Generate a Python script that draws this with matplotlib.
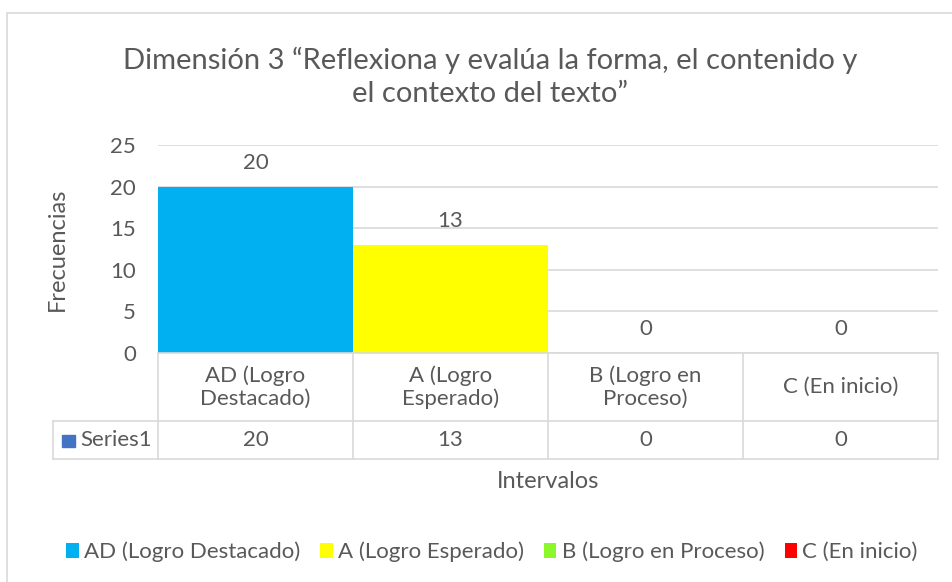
import matplotlib.pyplot as plt
from matplotlib.patches import Patch, Rectangle
from matplotlib.lines import Line2D
from matplotlib.transforms import blended_transform_factory

# ── Data ───────────────────────────────────────────────────────────────────
categories = ["AD (Logro Destacado)", "A (Logro Esperado)",
              "B (Logro en Proceso)", "C (En inicio)"]
table_labels = ["AD (Logro\nDestacado)", "A (Logro\nEsperado)",
                "B (Logro en\nProceso)", "C (En inicio)"]
values = [20, 13, 0, 0]
colors = ["#00b0f0", "#ffff00", "#92d050", "#ff0000"]
legend_colors = ["#00b0f0", "#ffff00", "#8cf72a", "#ff0000"]
series_name = "Series1"
yticks = [0, 5, 10, 15, 20, 25]

TXT = "#595959"
GRID = "#d9d9d9"
plt.rcParams["font.family"] = ["Lato", "DejaVu Sans"]

W, H = 953, 582
fig = plt.figure(figsize=(W / 100, H / 100), dpi=100)

# outer chart frame
fig.add_artist(Rectangle((7 / W, -0.1), 1.2, 1 - 13 / H + 0.1, transform=fig.transFigure,
                         fill=False, edgecolor=GRID, lw=1.2))

left, right, bottom, top = 158, 938, 353, 145
ax = fig.add_axes([left / W, 1 - bottom / H, (right - left) / W, (bottom - top) / H])

x = list(range(len(categories)))
ax.bar(x, values, width=1.0, color=colors, zorder=2)
ax.set_xlim(-0.5, len(categories) - 0.5)
ax.set_ylim(0, 25)
ax.set_yticks(yticks)
ax.set_yticklabels([str(t) for t in yticks], fontsize=16, color=TXT)
ax.tick_params(axis="y", length=0, pad=16)
ax.set_xticks([])
ax.grid(axis="y", color=GRID, lw=1.2, zorder=0)
for s in ax.spines.values():
    s.set_visible(False)

# bar value labels
for xi, v in zip(x, values):
    ax.annotate(str(v), (xi, v), xytext=(0, 10), textcoords="offset points",
                ha="center", va="bottom", fontsize=16, color=TXT)

ax.set_ylabel("Frecuencias", fontsize=17, color=TXT)
ax.yaxis.set_label_coords((68 - left) / (right - left), 0.5)

# ── Data table ─────────────────────────────────────────────────────────────
tr = blended_transform_factory(ax.transData, ax.transAxes)
ph = bottom - top
row1 = -(421 - bottom) / ph
row2 = -(459 - bottom) / ph
unit = (right - left) / len(categories)
x_left_cell = -0.5 - (left - 53) / unit

def hline(y, x0, x1):
    ax.add_line(Line2D([x0, x1], [y, y], transform=tr, color=GRID, lw=1.2, clip_on=False))

def vline(xv, y0, y1):
    ax.add_line(Line2D([xv, xv], [y0, y1], transform=tr, color=GRID, lw=1.2, clip_on=False))

hline(0, -0.5, 3.5)
hline(row1, x_left_cell, 3.5)
hline(row2, x_left_cell, 3.5)
for xv in [-0.5, 0.5, 1.5, 2.5, 3.5]:
    vline(xv, 0, row2)
vline(x_left_cell, row1, row2)

for xi, lab, v in zip(x, table_labels, values):
    ax.text(xi, row1 / 2, lab, transform=tr, ha="center", va="center",
            fontsize=16, color=TXT, linespacing=1.15)
    ax.text(xi, (row1 + row2) / 2, str(v), transform=tr, ha="center", va="center",
            fontsize=16, color=TXT)

ax.add_patch(Rectangle((x_left_cell + 9 / unit, -(447 - bottom) / ph), 13 / unit, 12 / ph,
                       transform=tr, color="#4472c4", clip_on=False))
ax.text(x_left_cell + 27 / unit, (row1 + row2) / 2, series_name, transform=tr,
        ha="left", va="center", fontsize=16, color=TXT)

# axis title under the table
fig.text(548 / W, 1 - 481 / H, "Intervalos", ha="center", va="center",
         fontsize=17, color=TXT)

# chart title
fig.text(490 / W, 1 - 77 / H, "Dimensión 3 \u201cReflexiona y evalúa la forma, el contenido y\nel contexto del texto\u201d",
         ha="center", va="center", fontsize=21, color=TXT, linespacing=1.3)

# legend
handles = [Patch(facecolor=c, edgecolor="none") for c in legend_colors]
fig.legend(handles, categories, loc="center", bbox_to_anchor=(492 / W, 1 - 552 / H),
           ncol=4, frameon=False, fontsize=16, labelcolor=TXT,
           handlelength=0.55, handleheight=0.7, handletextpad=0.25, columnspacing=0.9)

fig.savefig("out.png", dpi=100)
